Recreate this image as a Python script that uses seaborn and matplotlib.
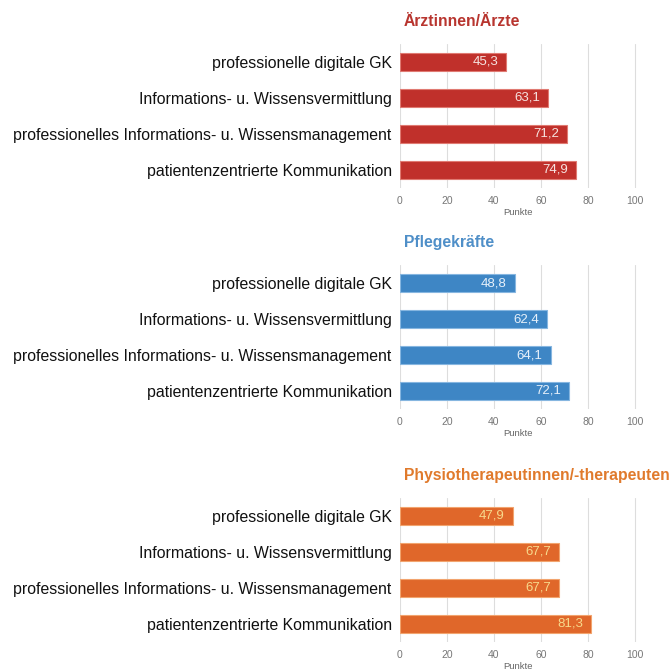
import matplotlib
matplotlib.use("Agg")
import matplotlib.pyplot as plt
import seaborn as sns
import pandas as pd

categories = [
    "professionelle digitale GK",
    "Informations- u. Wissensvermittlung",
    "professionelles Informations- u. Wissensmanagement",
    "patientenzentrierte Kommunikation",
]
groups = ["Ärztinnen/Ärzte", "Pflegekräfte", "Physiotherapeutinnen/-therapeuten"]
values_aerzte = [45.3, 63.1, 71.2, 74.9]
values_pflege = [48.8, 62.4, 64.1, 72.1]
values_physio = [47.9, 67.7, 67.7, 81.3]
xticks = [0, 20, 40, 60, 80, 100]
xlabel = "Punkte"

bar_colors = ["#C0302B", "#3E86C5", "#E0672A"]
edge_colors = ["#E07A72", "#86B6E0", "#F2A46E"]
title_colors = ["#B8352F", "#4F8FC8", "#E07A2C"]
label_colors = ["#F6E3E0", "#E6F0FA", "#F7D98C"]

sns.set_theme(style="white")
plt.rcParams["font.family"] = ["Liberation Sans", "DejaVu Sans"]

fig = plt.figure(figsize=(6.7, 6.71), dpi=100)
W, H = 670, 671
x0 = 400
px_per_unit = 2.35
xmax = 114
tops = [44, 265, 498]
height_px = 144

for i, (grp, vals) in enumerate(zip(groups, [values_aerzte, values_pflege, values_physio])):
    top = tops[i]
    ax = fig.add_axes([x0 / W, 1 - (top + height_px) / H,
                       xmax * px_per_unit / W, height_px / H])
    df = pd.DataFrame({"cat": categories, "val": vals})
    sns.barplot(data=df, x="val", y="cat", orient="h", ax=ax, color=bar_colors[i],
                width=0.5, edgecolor=edge_colors[i], linewidth=0.8, saturation=1)
    ax.set_xlim(0, xmax)
    ax.set_ylim(3.5, -0.5)
    ax.set_xticks(xticks)
    ax.set_xticklabels([str(t) for t in xticks], fontsize=7.5, color="#777777")
    ax.tick_params(axis="x", length=0, pad=6)
    ax.tick_params(axis="y", length=0, pad=6, labelsize=11.4, labelcolor="#111111")
    ax.set_ylabel("")
    ax.set_xlabel(xlabel, fontsize=6.8, color="#666666")
    ax.xaxis.set_label_coords(50 / xmax, -0.14)
    ax.grid(axis="x", color="#DDDDDD", linewidth=0.8)
    ax.set_axisbelow(True)
    for s in ax.spines.values():
        s.set_visible(False)
    for j, v in enumerate(vals):
        ax.text(v - 3.4, j, f"{v:.1f}".replace(".", ","), ha="right", va="center",
                fontsize=9.5, color=label_colors[i])
    ax.text(1.5, -0.5 - 0.42, grp, ha="left", va="bottom", fontsize=11.3,
            fontweight="bold", color=title_colors[i], transform=ax.transData)

fig.savefig("out.png", dpi=100)
